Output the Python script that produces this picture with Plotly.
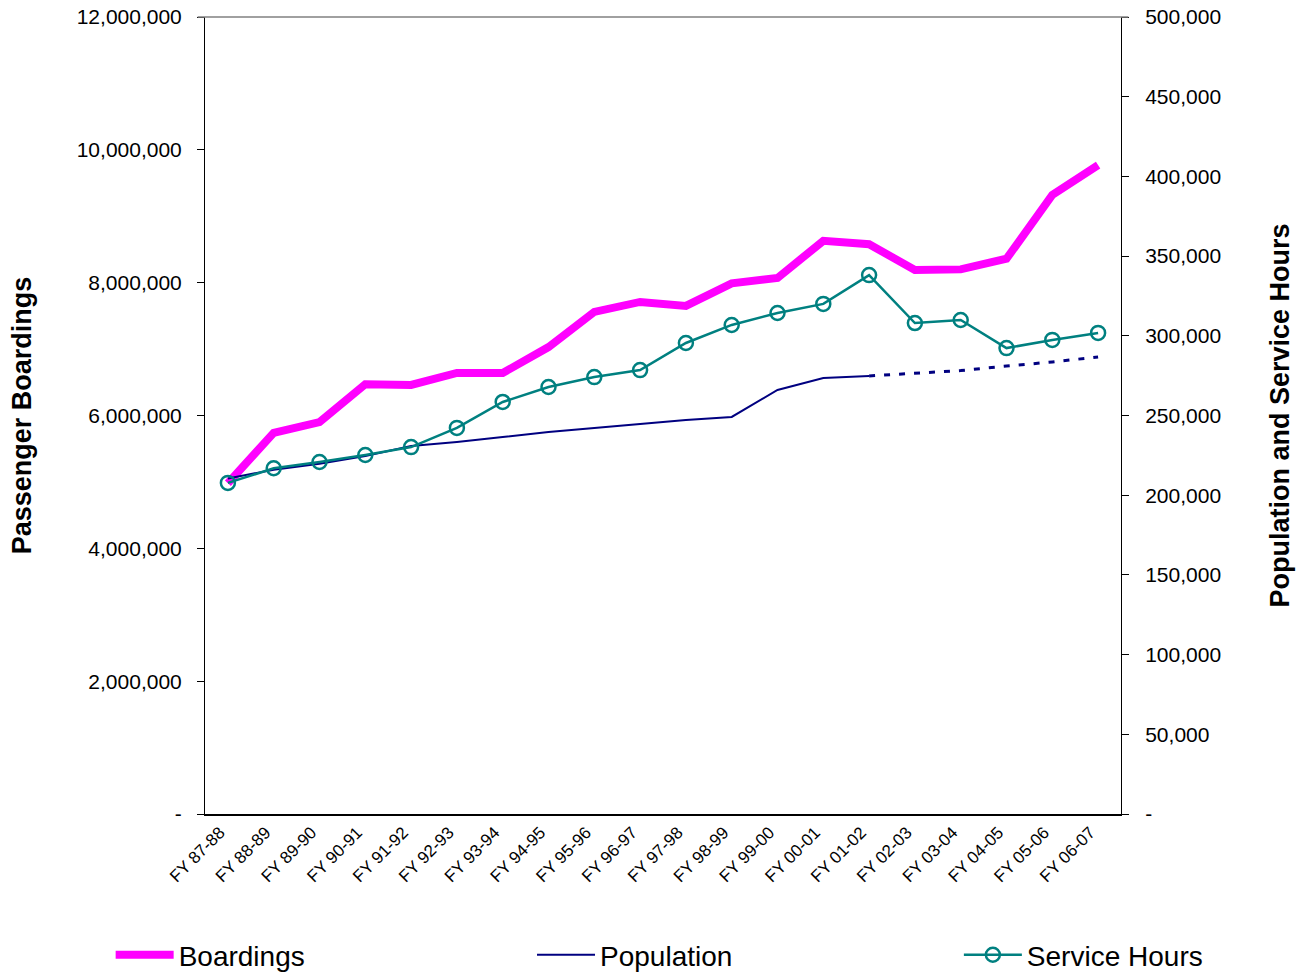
import plotly.graph_objects as go

categories = ["FY 87-88", "FY 88-89", "FY 89-90", "FY 90-91", "FY 91-92", "FY 92-93",
              "FY 93-94", "FY 94-95", "FY 95-96", "FY 96-97", "FY 97-98", "FY 98-99",
              "FY 99-00", "FY 00-01", "FY 01-02", "FY 02-03", "FY 03-04", "FY 04-05",
              "FY 05-06", "FY 06-07"]

boardings = [4980000, 5740000, 5900000, 6470000, 6460000, 6640000, 6640000, 7030000,
             7560000, 7710000, 7650000, 7990000, 8070000, 8630000, 8580000, 8190000,
             8200000, 8360000, 9320000, 9770000]

population = [210500, 216000, 219800, 224600, 230900, 233400, 236500, 239600, 242200,
              244700, 247200, 249100, 266000, 273500, 274800,
              None, None, None, None, None]

population_projected = [None, None, None, None, None, None, None, None, None, None,
                        None, None, None, None, 274800, 276700, 278200, 281000,
                        283600, 286700]

service_hours = [207700, 216900, 220800, 225200, 230200, 242200, 258500, 267900, 274100,
                 278500, 295500, 306800, 314300, 320000, 338100, 308000, 309900, 292300,
                 297400, 301800]

left_ticks = [0, 2000000, 4000000, 6000000, 8000000, 10000000, 12000000]
left_labels = ["-", "2,000,000", "4,000,000", "6,000,000", "8,000,000", "10,000,000", "12,000,000"]
right_ticks = [0, 50000, 100000, 150000, 200000, 250000, 300000, 350000, 400000, 450000, 500000]
right_labels = ["-", "50,000", "100,000", "150,000", "200,000", "250,000", "300,000",
                "350,000", "400,000", "450,000", "500,000"]

fig = go.Figure()
fig.add_trace(go.Scatter(x=categories, y=boardings, name="Boardings", mode="lines",
                         line=dict(color="#FF00FF", width=8), yaxis="y", legend="legend"))
fig.add_trace(go.Scatter(x=categories, y=population, name="Population", mode="lines",
                         line=dict(color="#000080", width=2), yaxis="y2", legend="legend2"))
fig.add_trace(go.Scatter(x=categories, y=population_projected, name="Population (projected)",
                         mode="lines", showlegend=False,
                         line=dict(color="#000080", width=3, dash="6px,9px"), yaxis="y2"))
fig.add_trace(go.Scatter(x=categories, y=service_hours, name="Service Hours", mode="lines+markers",
                         line=dict(color="#008080", width=2.5),
                         marker=dict(symbol="circle-open", size=14, color="#008080",
                                     line=dict(width=2.5, color="#008080")),
                         yaxis="y2", legend="legend3"))

legend_common = dict(orientation="h", yanchor="middle", y=-0.177, xanchor="left",
                     font=dict(size=28), itemwidth=58, bgcolor="rgba(0,0,0,0)",
                     borderwidth=0)

fig.update_layout(
    width=1304, height=977,
    margin=dict(l=205, r=183, t=17, b=163, autoexpand=False),
    paper_bgcolor="white", plot_bgcolor="white",
    font=dict(family="Arial, Liberation Sans, sans-serif", color="black"),
    xaxis=dict(type="category", showline=True, linecolor="black", linewidth=2,
               showgrid=False, ticks="", tickangle=-45, automargin=False,
               tickfont=dict(size=17), range=[-0.5, 19.5], ticklabelstandoff=0,
               ticklabelshift=-8),
    yaxis=dict(range=[0, 12000000], tickvals=left_ticks, ticktext=left_labels,
               showline=True, linecolor="black", linewidth=1, showgrid=False,
               ticks="outside", ticklen=7, tickcolor="black", zeroline=False,
               tickfont=dict(size=21), automargin=False, ticklabelstandoff=11,
               title=dict(text="<b>Passenger Boardings</b>", font=dict(size=27), standoff=37)),
    yaxis2=dict(range=[0, 500000], tickvals=right_ticks, ticktext=right_labels,
                overlaying="y", side="right",
                showline=True, linecolor="black", linewidth=1, showgrid=False,
                ticks="outside", ticklen=7, tickcolor="black", zeroline=False,
                tickfont=dict(size=21), automargin=False, ticklabelstandoff=12,
                title=dict(text="<b>Population and Service Hours</b>", font=dict(size=27), standoff=49)),
    legend=dict(x=-0.103, **legend_common),
    legend2=dict(x=0.357, **legend_common),
    legend3=dict(x=0.823, **legend_common),
    shapes=[dict(type="line", xref="paper", yref="paper", x0=-0.008, x1=1.008, y0=1, y1=1,
                 line=dict(color="#808080", width=1.5))],
)

fig.write_html("out.html")
